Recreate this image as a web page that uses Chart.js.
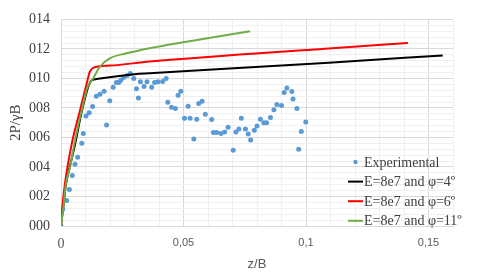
<!DOCTYPE html>
<html>
<head>
<meta charset="utf-8">
<script src="https://cdn.jsdelivr.net/npm/chart.js@4"></script>
<style>body{margin:0;background:#fff}</style>
</head>
<body>
<canvas id="myChart" width="478" height="280"></canvas>
<script>
// values
const expZ = [0, 0.0007, 0.0023, 0.0034, 0.0046, 0.0057, 0.0068, 0.0085, 0.0091, 0.0102, 0.0115, 0.0129, 0.0144, 0.0159, 0.0176, 0.0186, 0.0199, 0.0213, 0.0226, 0.0236, 0.0244, 0.0256, 0.027, 0.0283, 0.0297, 0.0308, 0.0316, 0.0324, 0.0339, 0.0351, 0.037, 0.0382, 0.0396, 0.0415, 0.0429, 0.0436, 0.0451, 0.0467, 0.0478, 0.0489, 0.0504, 0.0519, 0.0527, 0.0542, 0.0554, 0.0562, 0.0576, 0.0589, 0.0615, 0.0622, 0.0635, 0.0653, 0.0668, 0.0682, 0.0703, 0.0714, 0.0726, 0.0736, 0.0753, 0.0764, 0.0774, 0.0789, 0.08, 0.0814, 0.0828, 0.0839, 0.0855, 0.0869, 0.0881, 0.09, 0.0911, 0.0922, 0.0942, 0.0947, 0.0963, 0.097, 0.0981, 0.0999]
const expV = [0, 0.0114, 0.0172, 0.0248, 0.0342, 0.0418, 0.0466, 0.056, 0.0626, 0.0745, 0.0767, 0.081, 0.088, 0.0893, 0.0913, 0.0685, 0.0848, 0.094, 0.0973, 0.0973, 0.0987, 0.1007, 0.102, 0.1034, 0.1, 0.093, 0.0868, 0.0978, 0.0946, 0.0978, 0.094, 0.0973, 0.0978, 0.098, 0.1, 0.0838, 0.0805, 0.0797, 0.0886, 0.0913, 0.073, 0.0811, 0.073, 0.0589, 0.0724, 0.083, 0.0846, 0.0758, 0.0722, 0.0634, 0.0634, 0.0626, 0.0637, 0.067, 0.0513, 0.0637, 0.0657, 0.073, 0.0657, 0.0623, 0.0582, 0.0649, 0.0678, 0.0723, 0.07, 0.07, 0.0736, 0.0787, 0.0823, 0.0817, 0.0904, 0.0935, 0.0911, 0.086, 0.0797, 0.052, 0.064, 0.0704]

const phi4Z = [0, 0.001, 0.002, 0.0037, 0.0053, 0.0084, 0.0105, 0.0115, 0.0125, 0.0152, 0.0301, 0.0362, 0.1093, 0.1558]
const phi4V = [0, 0.014, 0.028, 0.041, 0.052, 0.077, 0.091, 0.096, 0.0987, 0.0998, 0.1029, 0.1035, 0.1107, 0.1156]

const phi6Z = [0, 0.0005, 0.0016, 0.0043, 0.0077, 0.0107, 0.0118, 0.0138, 0.02, 0.0362, 0.1093, 0.1416]
const phi6V = [0, 0.012, 0.0286, 0.055, 0.078, 0.098, 0.1047, 0.1076, 0.1087, 0.1114, 0.1203, 0.124]

const phi11Z = [0, 0.001, 0.002, 0.0037, 0.0057, 0.0084, 0.0107, 0.0131, 0.0159, 0.0199, 0.0267, 0.0362, 0.0772]
const phi11V = [0, 0.013, 0.0286, 0.04, 0.0577, 0.078, 0.0935, 0.1, 0.108, 0.1136, 0.117, 0.1205, 0.132]

const seriesNames = ['Experimental', 'E=8e7 and \u03c6=4\u00ba', 'E=8e7 and \u03c6=6\u00ba', 'E=8e7 and \u03c6=11\u00ba']
const yTickLabels = ['000', '002', '004', '006', '008', '010', '012', '014']
const xTickLabels = ['0', '0,05', '0,1', '0,15']

function pairs(xs, ys) {
  return xs.map((x, i) => ({x: x, y: ys[i]}))
}

// grid steps (minor lines like excel)
const xTicks = []
for (let i = 0; i <= 16; i++) xTicks.push({value: i / 100})
const yTicks = []
for (let i = 0; i <= 35; i++) yTicks.push({value: i * 0.004})

const MAJOR = '#d9d9d9'
const MINOR = '#f0f0f0'

const legendPlugin = {
  id: 'sideLegend',
  afterDraw(chart) {
    const ctx = chart.ctx
    ctx.save()
    ctx.font = '14px "Liberation Serif"'
    ctx.textBaseline = 'middle'
    ctx.textAlign = 'left'
    chart.data.datasets.forEach(function (ds, i) {
      const y = 162 + i * 19.6
      if (ds.showLine) {
        ctx.strokeStyle = ds.borderColor
        ctx.lineWidth = 2
        ctx.beginPath()
        ctx.moveTo(348, y)
        ctx.lineTo(363, y)
        ctx.stroke()
      } else {
        ctx.fillStyle = ds.backgroundColor
        ctx.beginPath()
        ctx.arc(355.5, y, 2.2, 0, Math.PI * 2)
        ctx.fill()
      }
      ctx.fillStyle = '#404040'
      ctx.fillText(ds.label, 364, y + 1)
    })
    ctx.restore()
  }
}

var ctx = document.getElementById('myChart').getContext('2d')
var chart = new Chart(ctx, {
  type: 'scatter',
  data: {
    datasets: [{
      label: seriesNames[0],
      data: pairs(expZ, expV),
      backgroundColor: '#5b9bd5',
      borderColor: '#5b9bd5',
      pointRadius: 2.5,
      borderWidth: 0,
      showLine: false,
      order: 3
    }, {
      label: seriesNames[1],
      data: pairs(phi4Z, phi4V),
      borderColor: '#000000',
      backgroundColor: '#000000',
      borderWidth: 2,
      pointRadius: 0,
      showLine: true,
      cubicInterpolationMode: 'monotone',
      order: 2
    }, {
      label: seriesNames[2],
      data: pairs(phi6Z, phi6V),
      borderColor: '#ff0000',
      backgroundColor: '#ff0000',
      borderWidth: 2,
      pointRadius: 0,
      showLine: true,
      cubicInterpolationMode: 'monotone',
      order: 1
    }, {
      label: seriesNames[3],
      data: pairs(phi11Z, phi11V),
      borderColor: '#70ad47',
      backgroundColor: '#70ad47',
      borderWidth: 2,
      pointRadius: 0,
      showLine: true,
      cubicInterpolationMode: 'monotone',
      order: 0
    }]
  },
  options: {
    responsive: false,
    animation: false,
    devicePixelRatio: 1,
    layout: {padding: {top: 17, right: 25, bottom: 4, left: 0}},
    plugins: {legend: {display: false}, tooltip: {enabled: false}},
    scales: {
      x: {
        type: 'linear',
        min: 0,
        max: 0.16,
        afterBuildTicks: function (scale) { scale.ticks = xTicks.map(t => ({value: t.value})) },
        afterFit: function (scale) { scale.height = 50 },
        grid: {
          drawTicks: false,
          color: c => (c.index % 5 === 0 ? MAJOR : MINOR),
          lineWidth: 1
        },
        border: {color: MAJOR},
        ticks: {
          autoSkip: false,
          maxRotation: 0,
          padding: 10,
          color: '#595959',
          font: c => (c.index === 0 ? {family: 'Liberation Serif', size: 14} : {family: 'Liberation Sans', size: 11}),
          callback: function (value, index) { return index % 5 === 0 ? xTickLabels[index / 5] : '' }
        },
        title: {
          display: true,
          text: 'z/B',
          color: '#595959',
          font: {family: 'Liberation Sans', size: 13},
          padding: {top: 0, bottom: 4}
        }
      },
      y: {
        type: 'linear',
        min: 0,
        max: 0.14,
        afterBuildTicks: function (scale) { scale.ticks = yTicks.map(t => ({value: t.value})) },
        afterFit: function (scale) { scale.width = 61 },
        grid: {
          drawTicks: false,
          color: c => (c.index % 5 === 0 ? MAJOR : MINOR),
          lineWidth: 1
        },
        border: {color: MAJOR},
        ticks: {
          autoSkip: false,
          padding: 11,
          color: '#404040',
          font: {family: 'Liberation Serif', size: 14},
          callback: function (value, index) { return index % 5 === 0 ? yTickLabels[index / 5] : '' }
        },
        title: {
          display: true,
          text: '2P/\u03b3B',
          color: '#404040',
          font: {family: 'Liberation Serif', size: 15},
          padding: {top: 7, bottom: 0}
        }
      }
    }
  },
  plugins: [legendPlugin]
})
</script>
</body>
</html>
